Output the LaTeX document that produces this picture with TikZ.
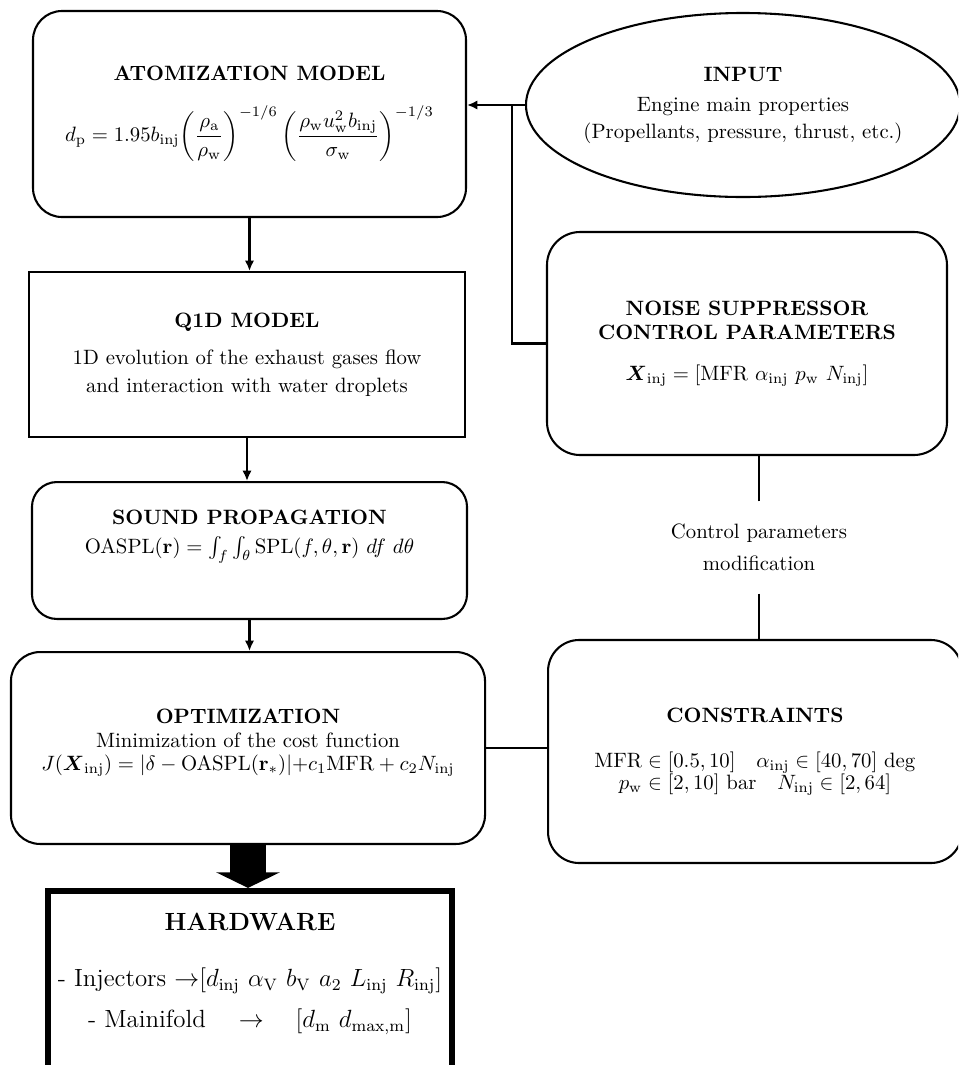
\documentclass[tikz,border=0pt]{standalone}
\usepackage{amsmath}
\usetikzlibrary{arrows.meta,shapes.geometric}

\newcommand{\rmsub}[1]{_{\mathrm{#1}}}

\begin{document}
\begin{tikzpicture}[x=0.482pt, y=-0.482pt,
    box/.style={draw, line width=1pt, align=center, inner sep=2pt},
    rbox/.style={box, rounded corners=#1},
    flow/.style={line width=1pt, -{Latex[length=5pt,width=4.5pt]}},
    link/.style={line width=1pt}]
    \useasboundingbox (0,0) rectangle (958,1065);
    \clip (0,0) rectangle (958,1065);

    \node[rbox=14pt, minimum width=208.7pt, minimum height=99.3pt] (atom) at (249.5,114)
      {\textbf{ATOMIZATION MODEL}\\[11pt]
       $\displaystyle d\rmsub{p}=1.95b\rmsub{inj}\biggl(\frac{\rho\rmsub{a}}{\rho\rmsub{w}}\biggr)^{-1/6}\,\biggl(\frac{\rho\rmsub{w}u\rmsub{w}^{2}b\rmsub{inj}}{\sigma\rmsub{w}}\biggr)^{-1/3}$};
    \node[draw, ellipse, line width=1pt, align=center, inner xsep=-5pt, inner ysep=0pt,
      minimum width=209.2pt, minimum height=88.7pt] (input) at (743,105)
      {\textbf{INPUT}\\[2.5pt] Engine main properties\\[1pt] (Propellants, pressure, thrust, etc.)};
    \node[box, minimum width=210.2pt, minimum height=79.5pt] (q1d) at (247,354.5)
      {\textbf{Q1D MODEL}\\[6pt] 1D evolution of the exhaust gases flow\\[1.5pt] and interaction with water droplets};
    \node[rbox=16pt, minimum width=192.8pt, minimum height=107.5pt] (noise) at (747,343.5)
      {\textbf{NOISE SUPPRESSOR}\\ \textbf{CONTROL PARAMETERS}\\[7.5pt]
       $\boldsymbol{X}\rmsub{inj}=[\mathrm{MFR}\ \alpha\rmsub{inj}\ p\rmsub{w}\ N\rmsub{inj}]$};
    \node[rbox=12pt, minimum width=209.7pt, minimum height=66pt] (sound) at (249.5,550.5)
      {\textbf{SOUND PROPAGATION}\\[2pt]
       $\mathrm{OASPL}(\mathbf{r})=\int_f\int_\theta \mathrm{SPL}(f,\theta,\mathbf{r})\ df\ d\theta$\\[6pt] ~};
    \node[rbox=14pt, minimum width=228.5pt, minimum height=92.5pt] (opt) at (248,748)
      {\textbf{OPTIMIZATION}\\ Minimization of the cost function\\[-1pt]
       $J(\boldsymbol{X}\rmsub{inj})=\vert\delta-\mathrm{OASPL}(\mathbf{r}_*)\vert{+}c_1\mathrm{MFR}+c_2N\rmsub{inj}$\\[-4pt] ~};
    \node[rbox=15pt, minimum width=199.5pt, minimum height=107.5pt] (cons) at (755,751.5)
      {\textbf{CONSTRAINTS}\\[10pt]
       $\mathrm{MFR}\in[0.5,10]\quad\alpha\rmsub{inj}\in[40,70]\ \mathrm{deg}$\\[-1.5pt]
       $p\rmsub{w}\in[2,10]\ \mathrm{bar}\quad N\rmsub{inj}\in[2,64]$};
    \node[align=center, minimum height=44pt] (ctrl) at (759,547.5)
      {Control parameters\\[3.5pt] modification};
    \node[box, line width=3pt, font=\large, minimum width=194.7pt, minimum height=90.6pt] (hw) at (250,985)
      {\textbf{HARDWARE}\\[13pt]
       - Injectors ${\rightarrow}[d\rmsub{inj}\ \alpha\rmsub{V}\ b\rmsub{V}\ a_2\ L\rmsub{inj}\ R\rmsub{inj}]$\\[5.5pt]
       - Mainifold $\quad\rightarrow\quad[d\rmsub{m}\ d\rmsub{max,m}]$\\ ~};

    \coordinate (splitx) at (512,0);
    \coordinate (split) at (splitx |- input.west);

    \draw[flow] (input.west) -- (input.west -| atom.east);
    \draw[link] (split) |- (noise.west);
    \draw[flow] (atom.south) -- (atom.south |- q1d.north);
    \draw[flow] (q1d.south) -- (q1d.south |- sound.north);
    \draw[flow] (sound.south) -- (sound.south |- opt.north);
    \draw[link] (ctrl.north) -- (ctrl.north |- noise.south);
    \draw[link] (ctrl.south) -- (ctrl.south |- cons.north);
    \draw[link] (opt.east) -- (opt.east -| cons.west);
    \draw[line width=17.4pt, -{Triangle[width=30.4pt,length=7.5pt]}] (opt.south) -- (opt.south |- hw.north);
\end{tikzpicture}
\end{document}
